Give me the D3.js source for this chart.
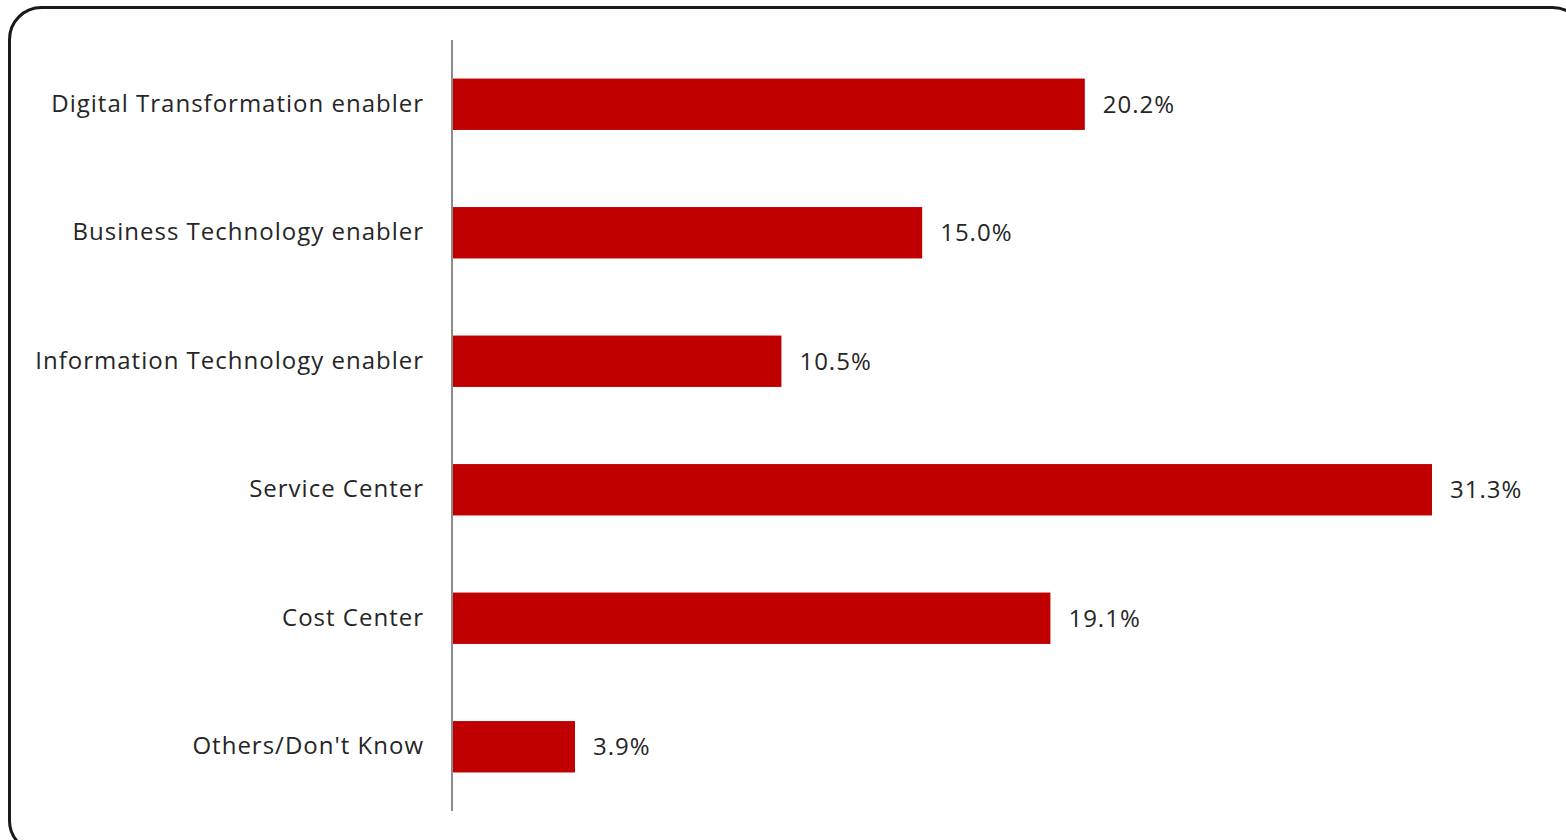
<!DOCTYPE html>
<html>
<head>
<meta charset="utf-8">
<script src="https://cdn.jsdelivr.net/npm/d3@7"></script>
<style>
    body { margin: 0; background: #fff; }
    svg { display: block; }
    text { font-family: "Open Sans", "Noto Sans", sans-serif; fill: #262626; letter-spacing: 1px; }
</style>
</head>
<body>
<svg width="1566" height="840"></svg>
<script>
var categories = [
    "Digital Transformation enabler",
    "Business Technology enabler",
    "Information Technology enabler",
    "Service Center",
    "Cost Center",
    "Others/Don't Know"
];
var values = [20.2, 15.0, 10.5, 31.3, 19.1, 3.9];

var data = categories.map(function(c, i) { return {name: c, value: values[i]}; });

var svg = d3.select("svg");
var fontSize = "24px";

// frame
svg.append("rect")
    .attr("x", 9.5)
    .attr("y", 7.5)
    .attr("width", 1575)
    .attr("height", 845)
    .attr("rx", 32)
    .attr("ry", 32)
    .attr("fill", "none")
    .attr("stroke", "#1a1a1a")
    .attr("stroke-width", 3);

var x0 = 453;
var x = d3.scaleLinear()
    .domain([0, 31.3])
    .range([x0, 1432]);

var y = d3.scaleBand()
    .domain(categories)
    .range([40, 811])
    .paddingInner(0.6)
    .paddingOuter(0.3);

// bars
svg.selectAll(".bar")
    .data(data)
    .enter()
    .append("rect")
    .attr("class", "bar")
    .attr("x", x(0))
    .attr("y", function(d) { return y(d.name); })
    .attr("width", function(d) { return x(d.value) - x(0); })
    .attr("height", y.bandwidth())
    .attr("fill", "#c00000");

// value labels
svg.selectAll(".value")
    .data(data)
    .enter()
    .append("text")
    .attr("class", "value")
    .attr("x", function(d) { return x(d.value) + 18; })
    .attr("y", function(d) { return y(d.name) + y.bandwidth() / 2; })
    .attr("dy", "0.35em")
    .style("font-size", fontSize)
    .text(function(d) { return d3.format(".1f")(d.value) + "%"; });

// category axis
var axis = d3.axisLeft(y).tickSize(0).tickPadding(28);
var g = svg.append("g")
    .attr("transform", "translate(" + (x0 - 1) + ",0)")
    .call(axis);
g.select(".domain").remove();
g.selectAll("text")
    .style("font-size", fontSize)
    .style("font-family", "'Open Sans', 'Noto Sans', sans-serif")
    .attr("fill", "#262626");

svg.append("line")
    .attr("x1", x0 - 1)
    .attr("x2", x0 - 1)
    .attr("y1", 40)
    .attr("y2", 811)
    .attr("stroke", "#8c8c8c")
    .attr("stroke-width", 2);
</script>
</body>
</html>
